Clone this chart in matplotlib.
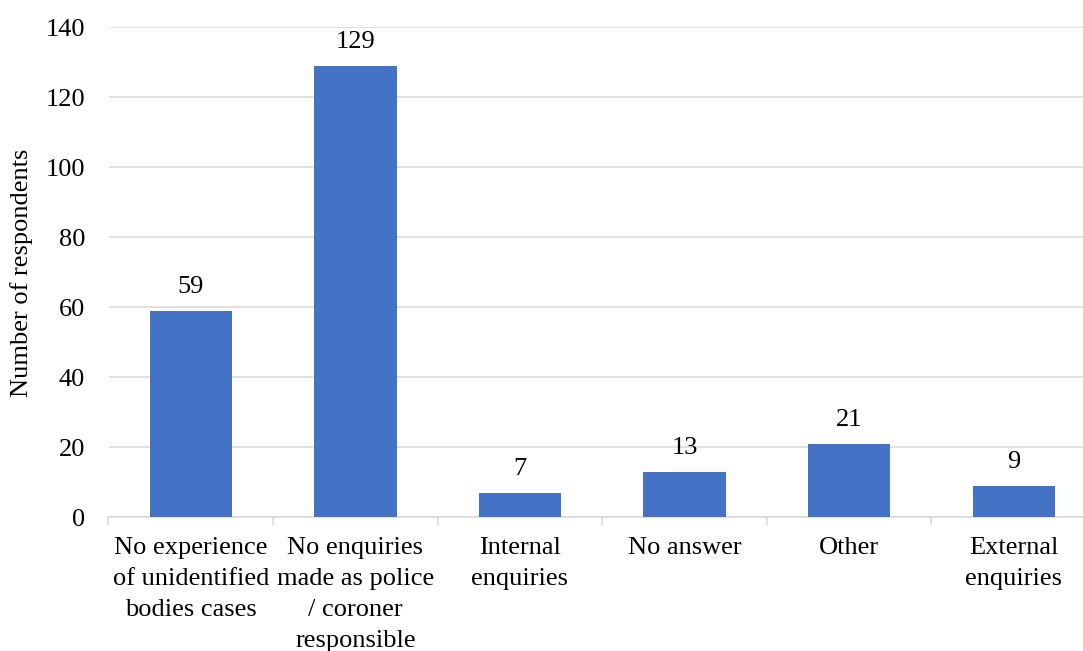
import matplotlib.pyplot as plt
import numpy as np

categories = ["No experience\nof unidentified\nbodies cases",
              "No enquiries\nmade as police\n/ coroner\nresponsible",
              "Internal\nenquiries", "No answer", "Other", "External\nenquiries"]
values = [59, 129, 7, 13, 21, 9]
yticks = [0, 20, 40, 60, 80, 100, 120, 140]

plt.rcParams['font.family'] = ['Liberation Serif', 'DejaVu Serif']

fig = plt.figure(figsize=(10.83, 6.51), dpi=100)
W, H = 1083, 651
ax = fig.add_axes([108.5 / W, (H - 517) / H, 987.5 / W, 490 / H])

x = np.arange(len(categories))
bars = ax.bar(x, values, width=0.5, color='#4472C4', zorder=3)
for xi, v in zip(x, values):
    ax.annotate(str(v), (xi, v), xytext=(0, 9), textcoords='offset points',
                ha='center', va='bottom', fontsize=19, color='#000000')

ax.set_xlim(-0.5, len(categories) - 0.5)
ax.set_ylim(0, 140)
ax.set_yticks(yticks)
ax.set_yticklabels([str(t) for t in yticks], fontsize=19)
ax.grid(axis='y', color='#d9d9d9', linewidth=1.1, zorder=0)

ax.set_xticks(x)
ax.set_xticklabels(categories, fontsize=19, linespacing=1.53)
ax.set_xticks(np.arange(len(categories) + 1) - 0.5, minor=True)
ax.tick_params(axis='x', which='major', length=0, pad=14.5)
ax.tick_params(axis='x', which='minor', length=6, color='#d9d9d9', width=1.1)
ax.tick_params(axis='y', length=0, pad=17)

for s in ['top', 'right', 'left']:
    ax.spines[s].set_visible(False)
ax.spines['bottom'].set_color('#d9d9d9')
ax.spines['bottom'].set_linewidth(1.1)

fig.text(22 / W, 1 - 273 / H, "Number of respondents", fontsize=19,
         rotation=90, ha='center', va='center')

fig.savefig('out.png', dpi=100)
